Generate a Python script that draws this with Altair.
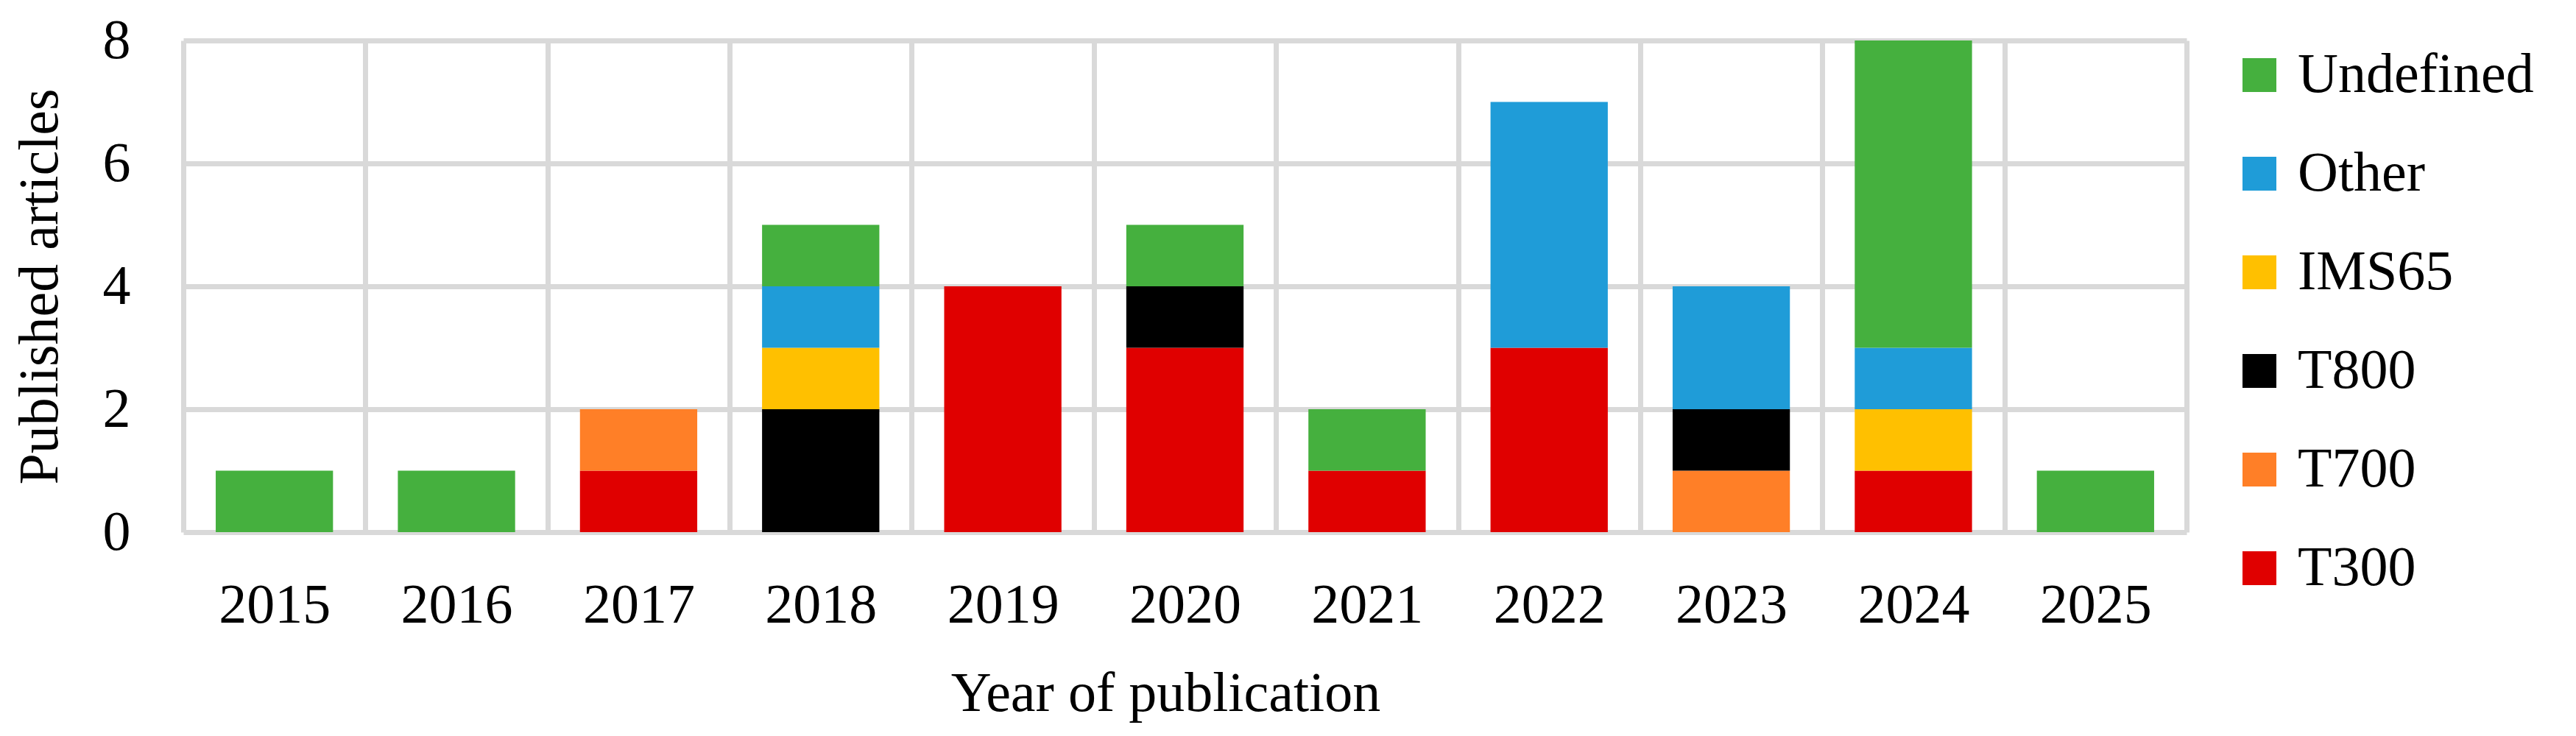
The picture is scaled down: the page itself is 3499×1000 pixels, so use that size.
import altair as alt
import pandas as pd

years = ["2015", "2016", "2017", "2018", "2019", "2020", "2021", "2022", "2023", "2024", "2025"]
series = ["T300", "T700", "T800", "IMS65", "Other", "Undefined"]
colors = ["#E00000", "#FF7F27", "#000000", "#FFC000", "#1F9CD8", "#45B03E"]

T300 = [0, 0, 1, 0, 4, 3, 1, 3, 0, 1, 0]
T700 = [0, 0, 1, 0, 0, 0, 0, 0, 1, 0, 0]
T800 = [0, 0, 0, 2, 0, 1, 0, 0, 1, 0, 0]
IMS65 = [0, 0, 0, 1, 0, 0, 0, 0, 0, 1, 0]
Other = [0, 0, 0, 1, 0, 0, 0, 4, 2, 1, 0]
Undefined = [1, 1, 0, 1, 0, 1, 1, 0, 0, 5, 1]

values = {"T300": T300, "T700": T700, "T800": T800, "IMS65": IMS65,
          "Other": Other, "Undefined": Undefined}

rows = []
for si, s in enumerate(series):
    for y, v in zip(years, values[s]):
        if v > 0:
            rows.append({"year": y, "series": s, "count": v, "order": si})
df = pd.DataFrame(rows)

FONT = "Liberation Serif"
FS = 76
GRID = "#D9D9D9"
GW = 7

chart = alt.Chart(df).mark_bar(width={"band": 0.644}).encode(
    x=alt.X("year:O", sort=years,
            scale=alt.Scale(domain=years, paddingInner=0, paddingOuter=0),
            axis=alt.Axis(title="Year of publication", labelAngle=0, ticks=False,
                          domain=False, grid=True, tickBand="extent",
                          gridColor=GRID, gridWidth=GW, labelPadding=62,
                          titlePadding=45, titleX=1334)),
    y=alt.Y("count:Q", stack="zero",
            scale=alt.Scale(domain=[0, 8], nice=False),
            axis=alt.Axis(title="Published articles", values=[0, 2, 4, 6, 8],
                          ticks=False, domain=False, grid=True,
                          gridColor=GRID, gridWidth=GW, labelPadding=72,
                          titlePadding=46)),
    color=alt.Color("series:N",
                    scale=alt.Scale(domain=series, range=colors),
                    sort=list(reversed(series)),
                    legend=alt.Legend(title=None, orient="none", legendX=2782, legendY=9,
                                      symbolType="square", symbolSize=2116,
                                      symbolStrokeWidth=0, labelOffset=14,
                                      rowPadding=58, padding=0, labelLimit=0,
                                      values=list(reversed(series)))),
    order=alt.Order("order:Q", sort="ascending"),
).properties(
    width=2721, height=668,
    padding={"left": 8, "top": 9, "right": 5, "bottom": 5}
).configure_view(
    strokeWidth=0
).configure_axis(
    labelFont=FONT, titleFont=FONT, labelFontSize=FS, titleFontSize=FS,
    labelColor="#000000", titleColor="#000000", titleFontWeight="normal"
).configure_legend(
    labelFont=FONT, labelFontSize=FS, labelColor="#000000"
)

chart.save("out.html", embed_options={"renderer": "svg", "actions": False})
